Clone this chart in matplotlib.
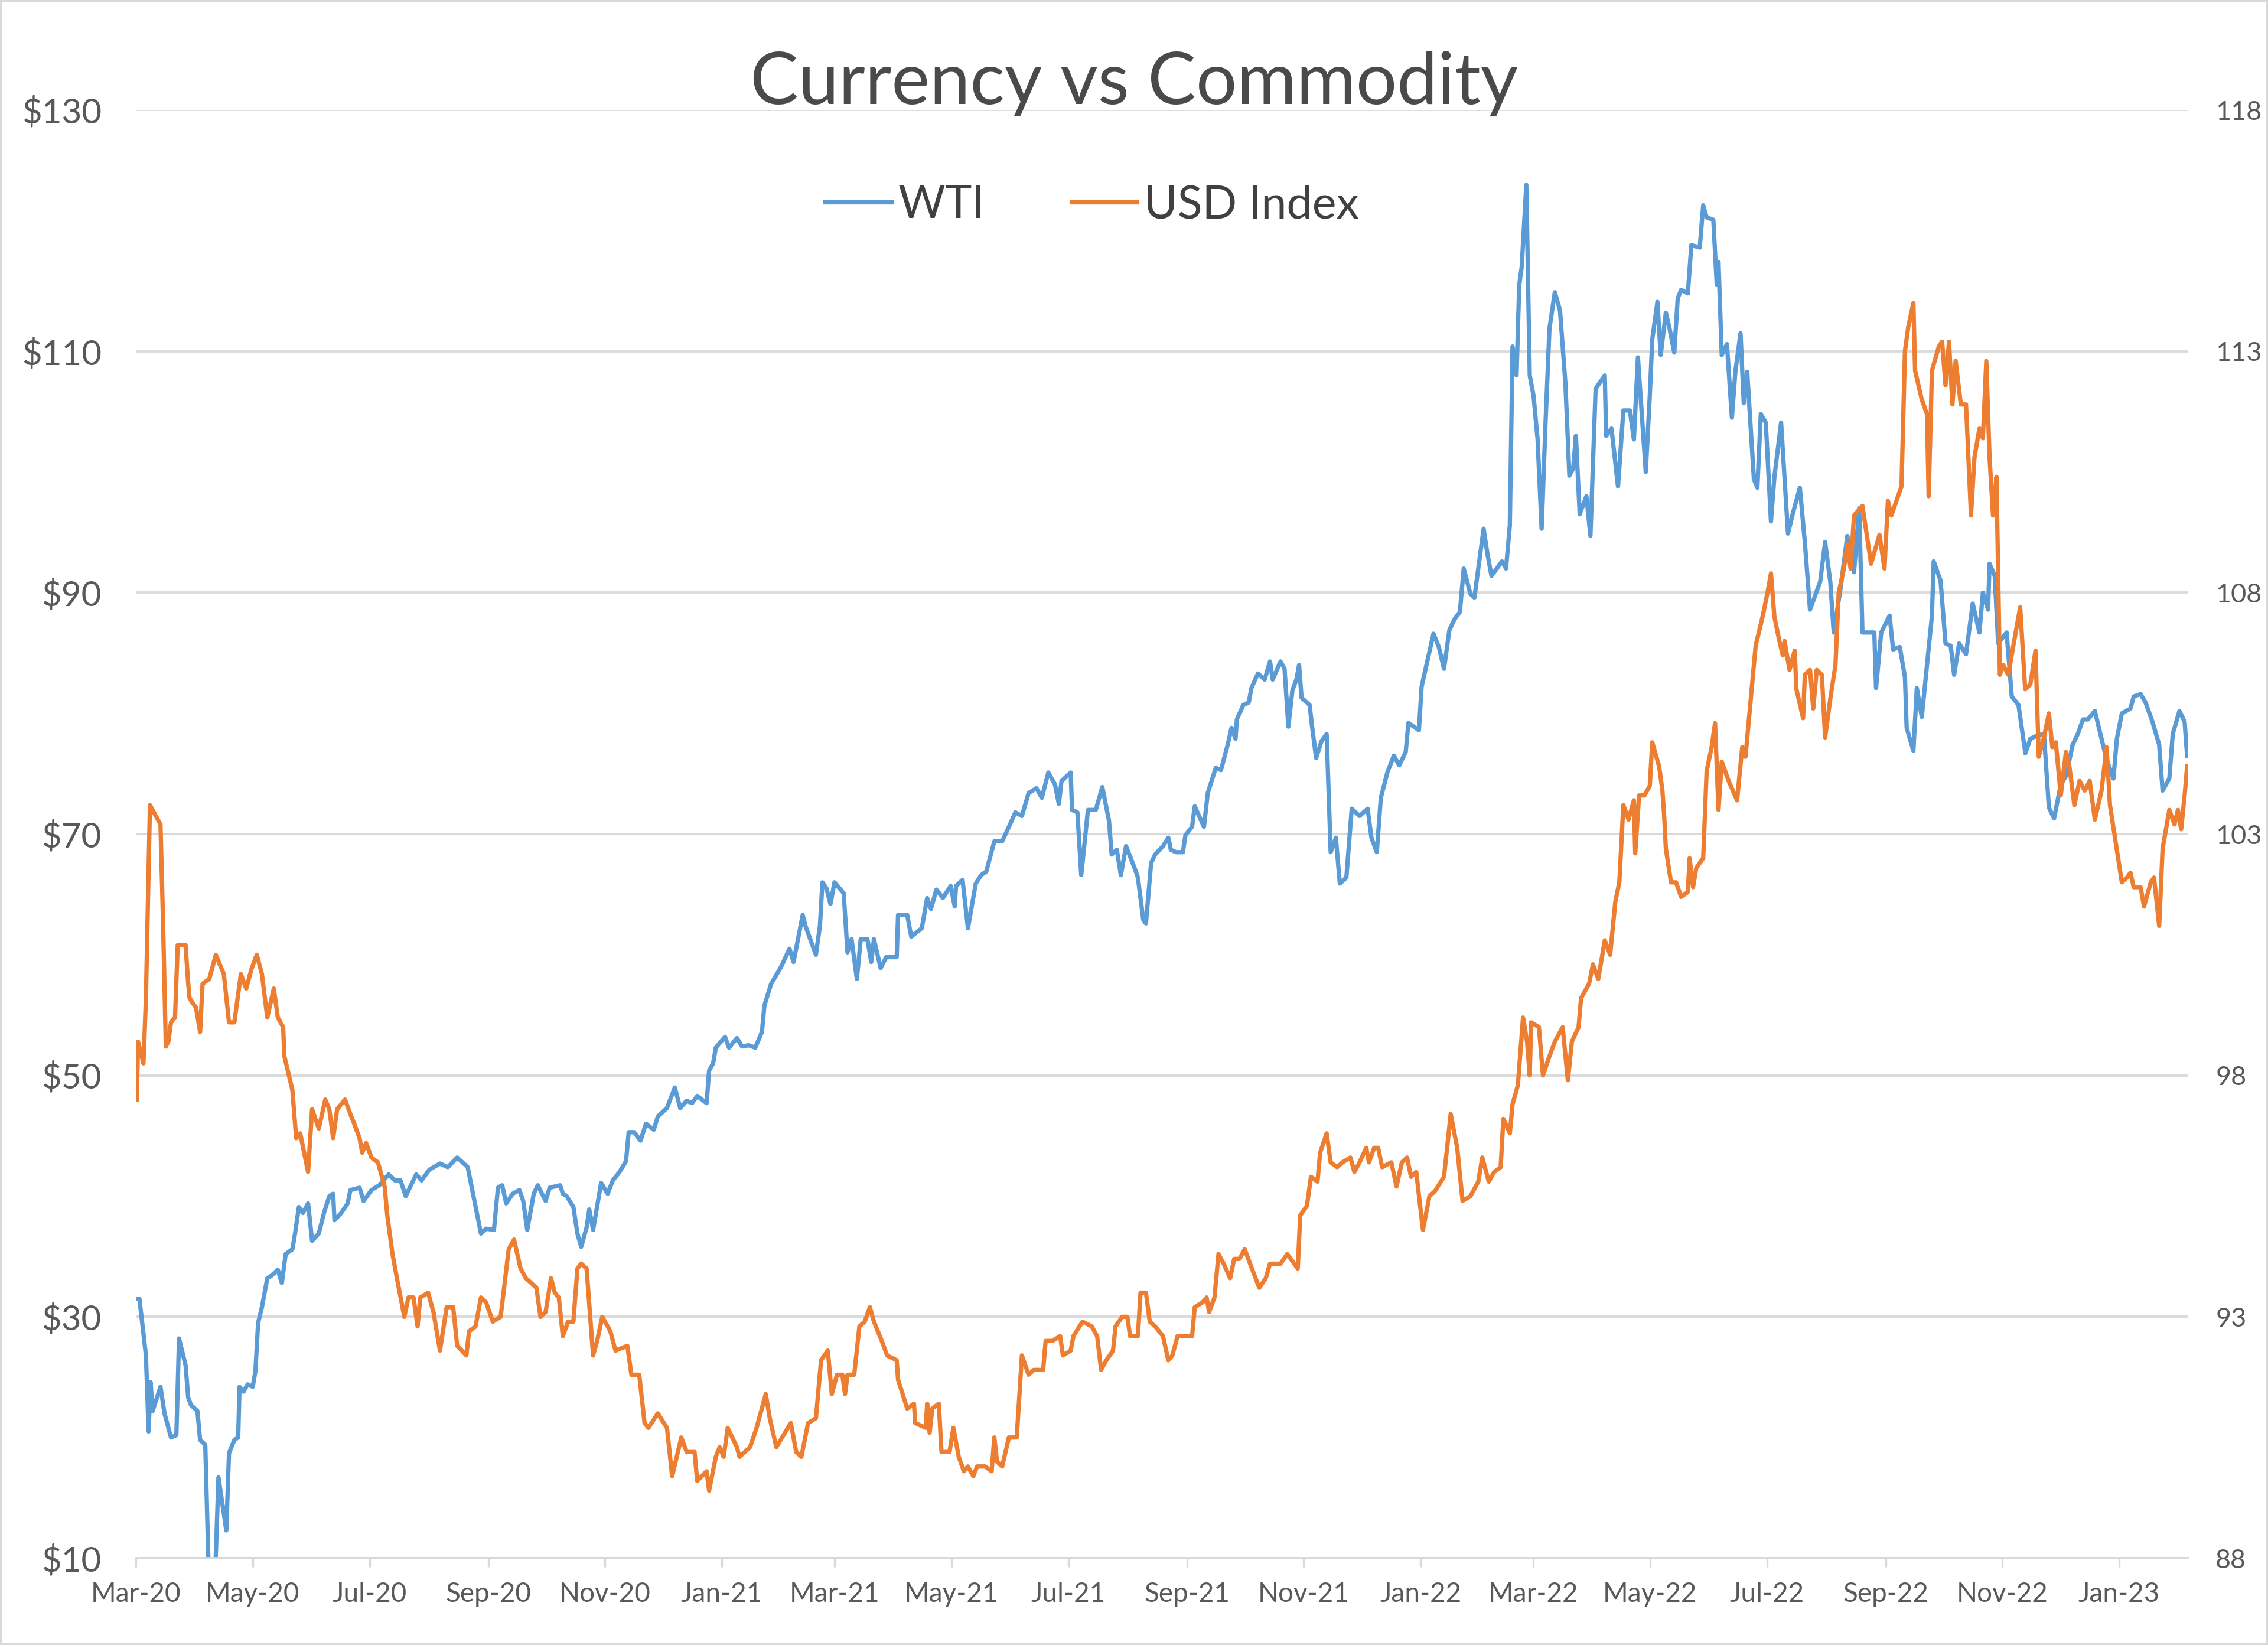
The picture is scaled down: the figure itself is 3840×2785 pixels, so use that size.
import matplotlib.pyplot as plt
from matplotlib.patches import Rectangle
import pandas as pd

plt.rcParams['font.family'] = ['Lato', 'DejaVu Sans']

# (days after 2020-03-01, WTI $/bbl)
wti = [
    (0.4, 31.5), (1.8, 31.5), (5.2, 26.8), (6.6, 20.5), (7.6, 24.6), (8.7, 22.2), (12.8, 24.2),
    (14.9, 22.0), (18.3, 20.0), (21.1, 20.2), (22.5, 28.2), (25.9, 26.0), (27.3, 23.3), (28.7, 22.7),
    (32.1, 22.2), (33.5, 19.8), (36.2, 19.4), (39.5, 0.0), (43.1, 16.7), (47.2, 12.3), (48.6, 18.7),
    (51.4, 19.8), (53.4, 20.0), (54.1, 24.2), (56.2, 23.8), (58.3, 24.4), (61.0, 24.2), (62.4, 25.5),
    (63.8, 29.5), (65.8, 30.8), (68.6, 33.2), (70.7, 33.4), (74.1, 33.9), (76.2, 32.8), (78.2, 35.2),
    (81.7, 35.6), (83.1, 36.9), (85.1, 39.1), (87.2, 38.6), (89.9, 39.4), (92.0, 36.3), (95.5, 36.9),
    (98.2, 38.6), (101.0, 40.0), (103.0, 40.2), (103.7, 38.0), (107.2, 38.6), (110.6, 39.4),
    (112.0, 40.5), (116.8, 40.7), (118.9, 39.6), (123.0, 40.5), (127.1, 40.9), (132.0, 41.8),
    (135.4, 41.3), (138.2, 41.3), (140.9, 40.0), (146.4, 41.8), (149.2, 41.3), (153.3, 42.2),
    (158.8, 42.7), (162.9, 42.4), (167.8, 43.2), (173.3, 42.4), (180.2, 36.9), (182.9, 37.3),
    (187.0, 37.2), (189.1, 40.7), (191.3, 40.9), (193.4, 39.4), (196.8, 40.2), (200.3, 40.5),
    (202.3, 39.6), (204.4, 37.2), (207.8, 40.2), (209.9, 40.9), (214.0, 39.6), (216.1, 40.7),
    (221.6, 40.9), (223.0, 40.2), (225.0, 40.0), (228.5, 39.1), (230.6, 36.9), (232.6, 35.8),
    (235.4, 37.4), (236.8, 38.9), (238.8, 37.2), (240.2, 38.5), (243.0, 41.1), (246.4, 40.2),
    (249.1, 41.3), (252.6, 42.0), (256.0, 42.9), (257.4, 45.3), (260.2, 45.3), (263.6, 44.6),
    (266.4, 46.0), (270.5, 45.5), (272.6, 46.6), (277.4, 47.3), (281.5, 49.0), (284.3, 47.3),
    (287.7, 47.9), (290.5, 47.7), (293.2, 48.3), (298.1, 47.7), (299.4, 50.4), (301.5, 51.0),
    (302.9, 52.3), (307.7, 53.2), (309.8, 52.3), (313.9, 53.1), (316.6, 52.4), (320.1, 52.5),
    (323.5, 52.3), (327.0, 53.6), (328.3, 55.8), (331.8, 57.6), (335.2, 58.5), (337.3, 59.1),
    (341.4, 60.5), (343.5, 59.4), (345.6, 61.1), (348.3, 63.3), (349.7, 62.4), (355.2, 60.0),
    (357.3, 62.4), (358.6, 66.0), (360.7, 65.5), (362.8, 64.2), (364.9, 66.0), (369.7, 65.1),
    (371.7, 60.2), (373.8, 61.3), (376.6, 58.0), (378.6, 61.3), (382.1, 61.3), (384.1, 59.4),
    (385.5, 61.3), (389.0, 58.9), (391.9, 59.8), (397.4, 59.8), (398.1, 63.3), (402.9, 63.3),
    (405.0, 61.5), (410.5, 62.2), (413.3, 64.7), (415.3, 63.8), (418.1, 65.4), (421.5, 64.7),
    (425.6, 65.7), (427.7, 64.0), (428.4, 65.7), (431.8, 66.2), (434.6, 62.2), (438.7, 65.9),
    (441.5, 66.6), (444.2, 66.9), (448.4, 69.4), (452.5, 69.4), (456.6, 70.8), (459.4, 71.8),
    (462.8, 71.5), (466.3, 73.4), (470.4, 73.8), (473.2, 73.0), (476.6, 75.1), (480.1, 74.1),
    (482.1, 72.5), (483.5, 74.4), (488.3, 75.1), (489.0, 72.0), (491.8, 71.8), (493.8, 66.6),
    (497.3, 72.0), (501.4, 72.0), (504.8, 73.9), (508.3, 71.1), (509.7, 68.3), (512.4, 68.7),
    (514.5, 66.6), (517.2, 69.0), (521.4, 67.3), (523.4, 66.4), (526.2, 62.9), (527.6, 62.6),
    (530.3, 67.6), (532.4, 68.3), (536.5, 69.0), (539.3, 69.7), (540.6, 68.7), (543.4, 68.5),
    (546.9, 68.5), (548.2, 69.9), (551.7, 70.6), (553.1, 72.3), (556.5, 71.1), (557.9, 70.6),
    (559.9, 73.4), (564.1, 75.5), (566.8, 75.3), (570.3, 77.4), (572.3, 78.8), (574.4, 77.9),
    (575.1, 79.5), (578.5, 80.7), (581.3, 80.9), (582.7, 82.1), (586.1, 83.3), (589.6, 82.8),
    (592.4, 84.3), (593.8, 82.8), (597.9, 84.3), (600.0, 83.7), (602.0, 78.9), (604.1, 81.9),
    (606.2, 82.8), (607.6, 84.0), (608.9, 81.3), (613.1, 80.7), (614.4, 78.9), (616.5, 76.3),
    (619.3, 77.7), (622.0, 78.3), (624.1, 68.5), (626.8, 69.7), (628.9, 65.9), (632.3, 66.4),
    (635.1, 72.1), (639.2, 71.5), (643.4, 72.1), (645.4, 69.7), (648.2, 68.5), (650.3, 73.0),
    (653.7, 75.1), (657.1, 76.5), (659.9, 75.7), (663.3, 76.8), (664.7, 79.2), (667.5, 78.9),
    (670.2, 78.6), (671.6, 82.2), (673.7, 83.7), (677.8, 86.6), (680.6, 85.5), (683.3, 83.7),
    (686.1, 86.9), (688.8, 87.8), (691.6, 88.4), (693.6, 92.0), (697.1, 89.9), (699.2, 89.6),
    (701.2, 92.0), (704.0, 95.3), (706.0, 93.2), (708.1, 91.4), (710.9, 92.0), (713.6, 92.6),
    (715.7, 92.0), (717.7, 95.6), (719.1, 110.4), (721.2, 108.0), (722.6, 115.5), (723.9, 117.0),
    (726.3, 123.8), (728.1, 108.0), (730.1, 106.3), (732.2, 102.7), (734.3, 95.3), (736.3, 103.9),
    (738.4, 111.9), (741.2, 114.9), (743.9, 113.4), (746.7, 107.4), (748.8, 99.7), (750.8, 100.3),
    (752.2, 103.0), (754.2, 96.5), (757.7, 98.0), (759.8, 94.7), (762.5, 106.9), (767.3, 108.0),
    (768.0, 103.0), (770.8, 103.6), (774.2, 98.8), (777.0, 105.1), (780.4, 105.1), (782.5, 102.7),
    (784.6, 109.5), (788.7, 100.0), (790.8, 106.3), (792.1, 111.0), (794.8, 114.1), (796.5, 109.7),
    (799.2, 113.2), (801.0, 112.0), (803.6, 109.9), (805.4, 114.4), (807.2, 115.1), (810.7, 114.8),
    (812.5, 118.8), (816.9, 118.6), (818.7, 122.1), (820.5, 121.1), (824.0, 120.9), (825.8, 115.5),
    (826.7, 117.4), (828.4, 109.7), (831.1, 110.6), (833.7, 104.5), (835.5, 108.3), (838.2, 111.5),
    (839.9, 105.7), (841.7, 108.3), (845.2, 99.4), (847.0, 98.7), (848.8, 104.8), (851.4, 104.1),
    (854.1, 95.9), (855.9, 99.6), (859.4, 104.1), (863.0, 94.9), (865.6, 96.6), (869.2, 98.7),
    (871.8, 94.2), (874.5, 88.6), (879.8, 90.9), (882.4, 94.2), (885.1, 90.9), (886.9, 86.7),
    (890.4, 90.3), (894.0, 94.7), (897.5, 91.7), (900.2, 97.0), (901.9, 86.7), (908.1, 86.7),
    (909.0, 82.1), (911.7, 86.7), (916.1, 88.1), (917.9, 85.3), (921.4, 85.5), (924.1, 83.0),
    (925.0, 78.8), (928.5, 76.9), (930.3, 82.1), (932.9, 79.7), (938.2, 88.1), (939.1, 92.6),
    (942.7, 91.0), (945.3, 85.8), (948.0, 85.6), (949.8, 83.2), (952.4, 85.8), (956.0, 84.9),
    (959.5, 89.1), (963.0, 86.7), (964.8, 90.0), (967.5, 88.6), (968.3, 92.4), (971.0, 91.4),
    (972.8, 85.8), (977.2, 86.7), (979.9, 81.4), (983.4, 80.7), (987.0, 76.7), (989.6, 77.9),
    (992.3, 78.1), (996.7, 78.3), (999.3, 72.2), (1002.0, 71.3), (1005.5, 74.1), (1008.2, 74.8),
    (1011.7, 77.4), (1014.4, 78.3), (1017.1, 79.5), (1019.7, 79.5), (1023.3, 80.2), (1026.8, 77.9),
    (1029.4, 76.2), (1033.0, 74.6), (1034.8, 77.9), (1037.4, 80.0), (1041.9, 80.4), (1043.6, 81.4),
    (1047.2, 81.6), (1049.8, 80.9), (1053.4, 79.3), (1056.9, 77.4), (1058.7, 73.6), (1062.2, 74.6),
    (1064.0, 78.3), (1067.5, 80.2), (1070.2, 79.3), (1071.5, 76.5),
]

# (days after 2020-03-01, USD index)
usd = [
    (0.4, 97.5), (1.1, 98.7), (3.9, 98.25), (5.2, 99.6), (7.3, 103.6), (11.4, 103.3), (12.8, 103.2),
    (14.2, 101.1), (15.6, 98.6), (16.9, 98.7), (18.3, 99.1), (20.4, 99.2), (21.8, 100.7),
    (25.9, 100.7), (27.3, 99.9), (28.0, 99.6), (31.4, 99.4), (33.5, 98.9), (34.8, 99.9),
    (38.3, 100.0), (41.7, 100.5), (45.9, 100.1), (48.6, 99.1), (51.4, 99.1), (54.8, 100.1),
    (57.6, 99.8), (60.3, 100.2), (63.1, 100.5), (65.8, 100.1), (68.6, 99.2), (72.0, 99.8),
    (74.1, 99.2), (76.9, 99.0), (77.5, 98.4), (81.7, 97.7), (83.7, 96.7), (85.8, 96.8), (89.9, 96.0),
    (92.0, 97.3), (95.5, 96.9), (98.9, 97.5), (101.0, 97.3), (103.0, 96.7), (105.1, 97.3),
    (109.2, 97.5), (112.0, 97.2), (114.0, 97.0), (116.8, 96.7), (118.2, 96.4), (120.2, 96.6),
    (123.0, 96.3), (126.4, 96.2), (129.9, 95.7), (131.3, 95.1), (134.0, 94.3), (136.8, 93.7),
    (140.2, 93.0), (142.3, 93.4), (145.0, 93.4), (147.1, 92.8), (148.5, 93.4), (152.6, 93.5),
    (155.4, 93.1), (158.8, 92.3), (162.3, 93.2), (165.7, 93.2), (167.8, 92.4), (172.6, 92.2),
    (174.0, 92.7), (177.4, 92.8), (180.2, 93.4), (182.9, 93.3), (186.4, 92.9), (190.5, 93.0),
    (194.7, 94.4), (197.5, 94.6), (200.9, 94.0), (203.7, 93.8), (206.5, 93.7), (209.2, 93.6),
    (211.3, 93.0), (214.0, 93.1), (216.8, 93.8), (218.8, 93.5), (220.9, 93.4), (223.0, 92.6),
    (225.7, 92.9), (228.5, 92.9), (230.6, 94.0), (232.6, 94.1), (235.4, 94.0), (238.8, 92.2),
    (240.9, 92.5), (243.6, 93.0), (247.8, 92.7), (250.5, 92.3), (256.7, 92.4), (258.8, 91.8),
    (262.9, 91.8), (265.7, 90.8), (267.7, 90.7), (272.6, 91.0), (277.4, 90.7), (280.1, 89.7),
    (284.9, 90.5), (287.7, 90.2), (291.8, 90.2), (293.2, 89.6), (298.1, 89.8), (299.4, 89.4),
    (302.9, 90.1), (304.9, 90.3), (307.0, 90.1), (309.1, 90.7), (313.9, 90.3), (315.3, 90.1),
    (320.8, 90.3), (324.2, 90.7), (329.0, 91.4), (331.1, 90.9), (334.5, 90.3), (342.1, 90.8),
    (344.9, 90.2), (347.6, 90.1), (351.1, 90.8), (355.2, 90.9), (357.9, 92.1), (361.4, 92.3),
    (363.5, 91.4), (366.2, 91.8), (369.0, 91.8), (370.4, 91.4), (371.7, 91.8), (375.2, 91.8),
    (377.9, 92.8), (380.7, 92.9), (383.4, 93.2), (385.5, 92.9), (389.6, 92.5), (392.4, 92.2),
    (397.4, 92.1), (398.1, 91.7), (402.9, 91.1), (406.4, 91.2), (407.1, 90.8), (412.6, 90.7),
    (413.3, 91.2), (414.6, 90.6), (416.0, 91.1), (419.4, 91.2), (420.8, 90.2), (425.0, 90.2),
    (427.0, 90.7), (429.8, 90.1), (432.5, 89.8), (434.6, 89.9), (437.4, 89.7), (439.4, 89.9),
    (443.6, 89.9), (447.0, 89.8), (448.4, 90.5), (449.8, 90.0), (452.5, 89.9), (456.0, 90.5),
    (460.1, 90.5), (462.8, 92.2), (466.3, 91.8), (469.0, 91.9), (473.9, 91.9), (475.2, 92.5),
    (478.7, 92.5), (482.8, 92.6), (484.2, 92.2), (488.3, 92.3), (489.7, 92.6), (494.5, 92.9),
    (499.3, 92.8), (502.1, 92.6), (504.2, 91.9), (506.9, 92.1), (510.4, 92.3), (511.7, 92.8),
    (515.2, 93.0), (517.9, 93.0), (519.3, 92.6), (523.4, 92.6), (524.8, 93.5), (527.6, 93.5),
    (529.6, 92.9), (532.4, 92.8), (534.5, 92.7), (536.5, 92.6), (539.3, 92.1), (541.4, 92.2),
    (544.1, 92.6), (547.6, 92.6), (551.7, 92.6), (553.1, 93.2), (557.2, 93.3), (559.3, 93.4),
    (560.6, 93.1), (563.4, 93.4), (565.5, 94.3), (568.2, 94.1), (571.6, 93.8), (573.7, 94.2),
    (576.5, 94.2), (579.2, 94.4), (582.0, 94.1), (586.8, 93.6), (590.2, 93.8), (592.4, 94.1),
    (597.9, 94.1), (601.4, 94.3), (606.9, 94.0), (608.2, 95.1), (611.7, 95.3), (613.8, 95.9),
    (617.2, 95.8), (618.6, 96.4), (622.0, 96.8), (624.1, 96.2), (627.5, 96.1), (630.3, 96.2),
    (634.4, 96.3), (636.5, 96.0), (639.2, 96.2), (642.7, 96.5), (644.1, 96.2), (646.8, 96.5),
    (648.9, 96.5), (651.0, 96.1), (655.8, 96.2), (658.5, 95.7), (661.3, 96.2), (664.0, 96.3),
    (666.1, 95.9), (668.8, 96.0), (672.3, 94.8), (675.7, 95.5), (678.5, 95.6), (683.3, 95.9),
    (686.8, 97.2), (690.2, 96.5), (693.0, 95.4), (697.1, 95.5), (701.2, 95.8), (703.3, 96.3),
    (706.7, 95.8), (709.5, 96.0), (712.9, 96.1), (714.3, 97.1), (717.7, 96.8), (719.1, 97.4),
    (721.9, 97.8), (724.6, 99.2), (726.7, 98.7), (728.1, 98.0), (728.8, 99.1), (732.9, 99.0),
    (735.0, 98.0), (738.4, 98.4), (741.2, 98.7), (745.3, 99.0), (748.0, 97.9), (750.1, 98.7),
    (753.6, 99.0), (754.9, 99.6), (759.1, 99.9), (761.1, 100.3), (763.9, 100.0), (767.3, 100.8),
    (770.1, 100.5), (772.8, 101.6), (774.9, 102.0), (777.0, 103.6), (779.7, 103.3), (782.5, 103.7),
    (783.2, 102.6), (785.2, 103.8), (788.0, 103.8), (790.8, 104.0), (792.1, 104.9), (795.7, 104.4),
    (797.4, 103.9), (798.3, 103.4), (799.2, 102.7), (801.9, 102.0), (804.5, 102.0), (807.2, 101.7),
    (810.7, 101.8), (811.6, 102.5), (813.4, 101.9), (815.1, 102.3), (818.7, 102.5), (820.5, 104.3),
    (823.1, 104.8), (824.9, 105.3), (826.7, 103.5), (828.4, 104.5), (832.0, 104.1), (836.4, 103.7),
    (839.1, 104.8), (840.8, 104.6), (846.1, 106.9), (849.7, 107.5), (852.3, 108.0), (854.1, 108.4),
    (855.9, 107.5), (858.5, 107.0), (860.3, 106.7), (861.2, 107.0), (863.8, 106.4), (866.5, 106.8),
    (867.4, 106.0), (870.9, 105.4), (871.8, 106.3), (874.5, 106.4), (876.2, 105.6), (878.0, 106.4),
    (880.7, 106.3), (882.4, 105.0), (885.1, 105.8), (887.8, 106.5), (889.5, 108.0), (892.2, 108.5),
    (894.0, 109.0), (895.7, 108.5), (897.5, 109.6), (901.9, 109.8), (906.4, 108.6), (910.8, 109.2),
    (913.4, 108.5), (915.2, 109.9), (917.0, 109.6), (920.5, 110.0), (922.3, 110.2), (924.1, 113.0),
    (925.8, 113.5), (928.5, 114.0), (929.4, 112.6), (932.9, 112.0), (935.6, 111.7), (936.5, 110.0),
    (938.2, 112.6), (941.8, 113.1), (943.5, 113.2), (945.3, 112.3), (947.1, 113.2), (948.9, 111.9),
    (950.6, 112.8), (953.3, 111.9), (956.0, 111.9), (958.6, 109.6), (960.4, 110.8), (963.0, 111.4),
    (964.8, 111.2), (966.6, 112.8), (968.3, 110.8), (970.1, 109.6), (971.9, 110.4), (973.7, 106.3),
    (975.4, 106.5), (978.1, 106.3), (980.7, 106.9), (984.3, 107.7), (986.9, 106.0), (989.6, 106.1),
    (992.3, 106.8), (994.0, 104.6), (996.7, 105.0), (999.3, 105.5), (1001.1, 104.8), (1002.9, 104.9),
    (1005.5, 103.8), (1008.2, 104.7), (1010.0, 104.4), (1012.6, 103.6), (1015.3, 104.1),
    (1018.0, 103.9), (1020.6, 104.1), (1023.3, 103.3), (1026.8, 103.9), (1029.4, 104.8),
    (1031.2, 103.6), (1033.9, 102.9), (1037.4, 102.0), (1040.1, 102.1), (1041.9, 102.2),
    (1043.6, 101.9), (1047.2, 101.9), (1049.0, 101.5), (1052.5, 102.0), (1054.2, 102.1),
    (1056.9, 101.1), (1058.7, 102.7), (1062.2, 103.5), (1064.9, 103.2), (1066.7, 103.5),
    (1068.4, 103.1), (1070.2, 103.8), (1071.5, 104.4),
]

start = pd.Timestamp("2020-03-01")
end = start + pd.Timedelta(days=1072.2)
tick_dates = pd.date_range("2020-03-01", "2023-01-01", freq="2MS")
tick_labels = [d.strftime("%b-%y") for d in tick_dates]
left_ticks = list(range(10, 131, 20))
right_ticks = list(range(88, 119, 5))

wti_days, wti_vals = zip(*wti)
usd_days, usd_vals = zip(*usd)
wti_dates = start + pd.to_timedelta(list(wti_days), unit="D")
usd_dates = start + pd.to_timedelta(list(usd_days), unit="D")

blue = '#5B9BD5'
orange = '#ED7D31'
grid = '#D9D9D9'
txt = '#595959'

fig = plt.figure(figsize=(12.8, 2785 / 300), dpi=300)
fig.patches.append(Rectangle((0, 0), 1, 1, transform=fig.transFigure, fill=False,
                             edgecolor=grid, lw=1.5))

ax = fig.add_axes([94 / 1568, 1 - 1077 / 1137, (1513 - 94) / 1568, (1077 - 76) / 1137])
ax2 = ax.twinx()

l1, = ax.plot(wti_dates, wti_vals, color=blue, lw=1.75, label='WTI')
l2, = ax2.plot(usd_dates, usd_vals, color=orange, lw=1.75, label='USD Index')

ax.set_xlim(start, end)
ax.set_ylim(10, 130)
ax2.set_ylim(88, 118)
ax.set_yticks(left_ticks)
ax.set_yticklabels(['$%d' % v for v in left_ticks])
ax2.set_yticks(right_ticks)
ax2.set_yticklabels([str(v) for v in right_ticks])
ax.set_xticks(tick_dates)
ax.set_xticklabels(tick_labels)

ax.grid(axis='y', color=grid, lw=0.9)
ax.set_axisbelow(True)
for a in (ax, ax2):
    for s in a.spines.values():
        s.set_visible(False)
ax.spines['bottom'].set_visible(True)
ax.spines['bottom'].set_color(grid)
ax.spines['bottom'].set_linewidth(0.9)

ax.tick_params(axis='y', length=0, pad=14, labelsize=14, labelcolor=txt)
ax2.tick_params(axis='y', length=0, pad=11, labelsize=10.8, labelcolor=txt)
ax.tick_params(axis='x', length=3.5, width=0.8, color=grid, pad=6, labelsize=11, labelcolor=txt)

fig.text(0.5, 1 - 72 / 1137, 'Currency vs Commodity', ha='center', va='baseline',
         fontsize=29.4, color='#4a4a4a')
fig.legend([l1, l2], ['WTI', 'USD Index'], loc='center', bbox_to_anchor=(755 / 1568, 1 - 142 / 1137),
           ncol=2, frameon=False, fontsize=18.5, handlelength=1.45, handletextpad=0.15,
           columnspacing=1.9, labelcolor='#404040')

fig.savefig('out.png', dpi=300)
